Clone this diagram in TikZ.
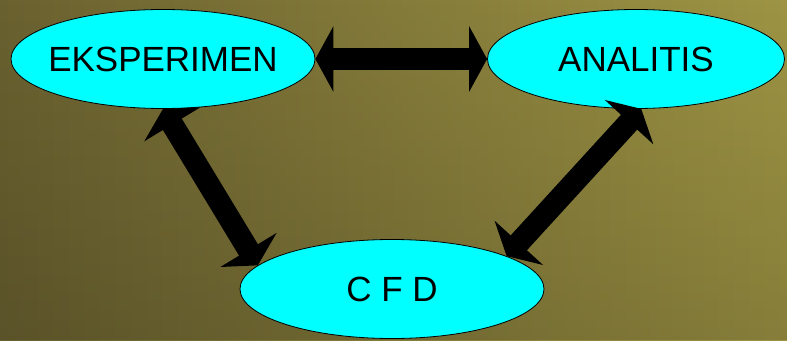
\documentclass[tikz,border=0pt]{standalone}
\usepackage{fontspec}
\setmainfont{Liberation Sans}
\usetikzlibrary{shapes.geometric,arrows.meta,fadings}
\definecolor{bgdark}{HTML}{6A6130}
\definecolor{bglight}{HTML}{9E9444}
\definecolor{fillc}{HTML}{00FFFF}
\definecolor{ink}{HTML}{000000}
\tikzset{
  blob/.style={ellipse, draw=ink, line width=0.8pt, fill=fillc, minimum width=304pt,
    minimum height=99pt, inner xsep=-12pt, inner ysep=0pt, font=\fontsize{35}{40}\selectfont},
  fat/.tip={Triangle[width=65pt,length=18pt]},
  link/.style={draw=ink, line width=22pt, fat-fat},
}

\begin{document}
\begin{tikzpicture}[x=1pt,y=-1pt]
  \shade[left color=bgdark, right color=bglight] (0,0) rectangle (787,340);
  \fill[black, opacity=0.15, path fading=north] (0,0) rectangle (787,340);
  \useasboundingbox (0,0) rectangle (787,340);

  \node[blob] (eksp) at (163,59) {EKSPERIMEN};
  \node[blob, minimum width=297pt] (anal) at (636,59) {ANALITIS};
  \node[blob] (cfd) at (392,289) {C F D};

  \draw[link] (eksp.east) -- (anal.west);
  \draw[link] (eksp.-90) -- (cfd.170);
  \draw[link] (anal.-84) -- (cfd.16);
\end{tikzpicture}
\end{document}
